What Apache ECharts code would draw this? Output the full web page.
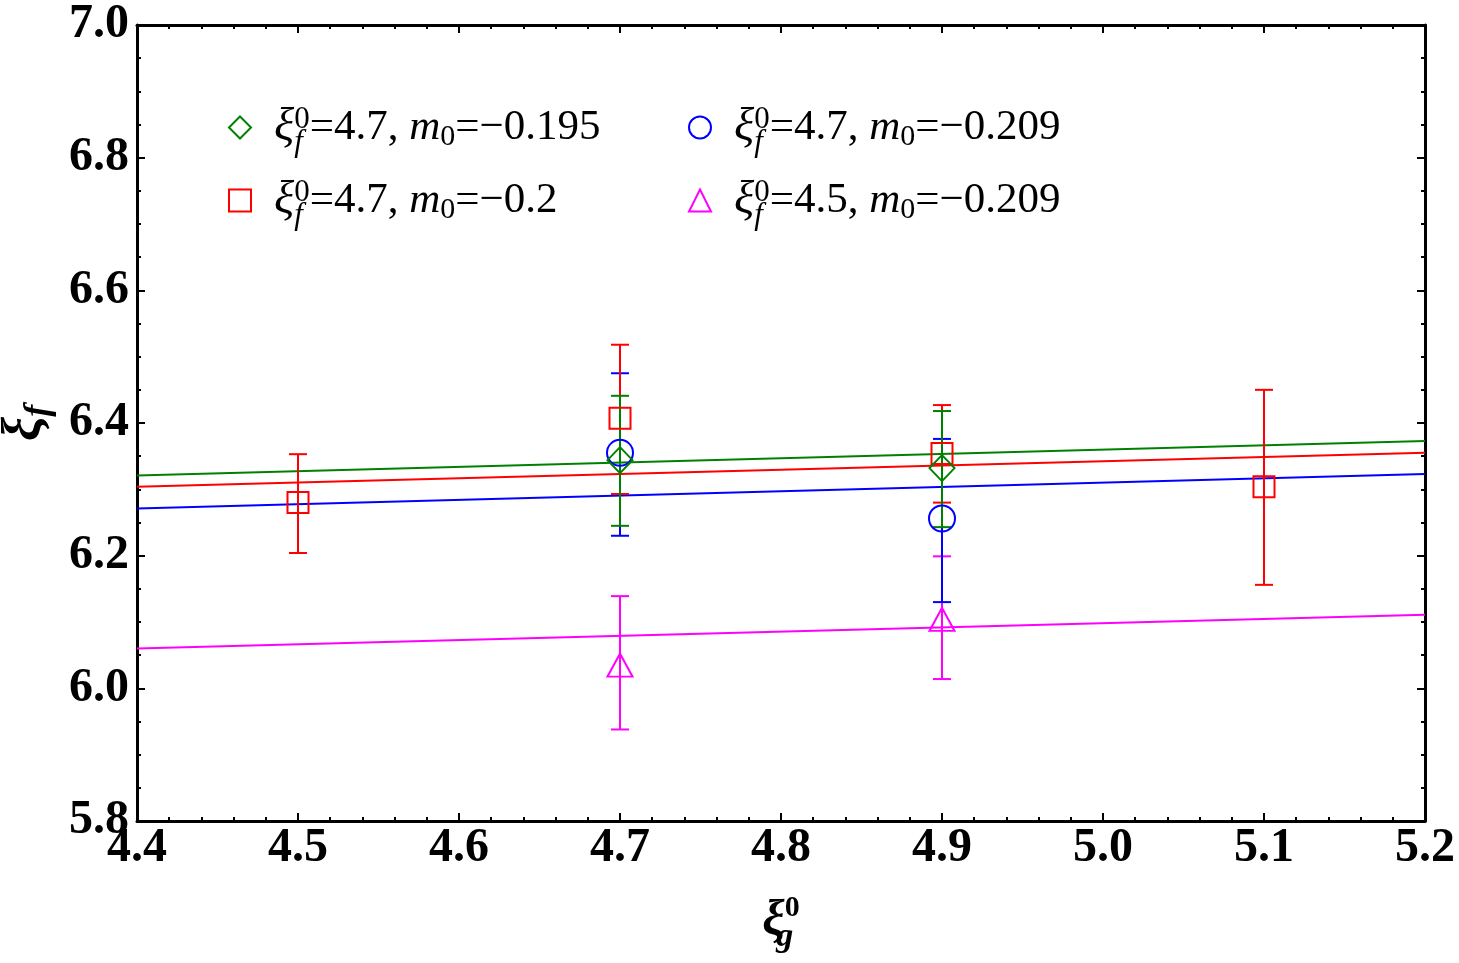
<!DOCTYPE html>
<html lang="en">
  <head>
    <meta charset="UTF-8" />
    <title>xi_f vs xi_g</title>
    <style>
      html, body { margin: 0; padding: 0; background: #fff; }
    </style>
  </head>
  <body>
    <div id="main" style="width: 1459px; height: 963px"></div>

    <script src="https://cdn.jsdelivr.net/npm/echarts@6/dist/echarts.min.js"></script>
    <script>
      var myChart = echarts.init(document.getElementById("main"), null, { renderer: "canvas" });

      // data
      var seriesNames = ["green", "red", "blue", "magenta"];
      var seriesColors = ["#008000", "#ff0000", "#0000ff", "#ff00ff"];
      var seriesSymbols = ["diamond", "rect", "circle", "triangle"];
      var seriesSizes = [[25, 26], 21, 26, [25, 23]];
      var legendXi0 = ["4.7", "4.7", "4.7", "4.5"];
      var legendM0 = ["\u22120.195", "\u22120.2", "\u22120.209", "\u22120.209"];

      var greenX = [4.7, 4.9];
      var greenY = [6.344, 6.332];
      var greenLo = [6.245, 6.243];
      var greenHi = [6.441, 6.418];

      var redX = [4.5, 4.7, 4.9, 5.1];
      var redY = [6.28, 6.407, 6.354, 6.304];
      var redLo = [6.204, 6.293, 6.28, 6.156];
      var redHi = [6.353, 6.518, 6.427, 6.45];

      var blueX = [4.7, 4.9];
      var blueY = [6.355, 6.256];
      var blueLo = [6.23, 6.13];
      var blueHi = [6.475, 6.376];

      var magentaX = [4.7, 4.9];
      var magentaY = [6.035, 6.104];
      var magentaLo = [5.938, 6.014];
      var magentaHi = [6.139, 6.199];

      // fit lines, values at x = 4.4 and x = 5.2
      var fitX = [4.4, 5.2];
      var greenFit = [6.321, 6.373];
      var redFit = [6.304, 6.355];
      var blueFit = [6.271, 6.323];
      var magentaFit = [6.06, 6.111];

      var xTicks = [4.4, 4.5, 4.6, 4.7, 4.8, 4.9, 5.0, 5.1, 5.2];
      var yTicks = [5.8, 6.0, 6.2, 6.4, 6.6, 6.8, 7.0];

      var allX = [greenX, redX, blueX, magentaX];
      var allY = [greenY, redY, blueY, magentaY];
      var allLo = [greenLo, redLo, blueLo, magentaLo];
      var allHi = [greenHi, redHi, blueHi, magentaHi];
      var allFit = [greenFit, redFit, blueFit, magentaFit];

      var serif = "Liberation Serif";

      function errorBarItem(color) {
        return function (params, api) {
          var x = api.value(0);
          var lo = api.coord([x, api.value(1)]);
          var hi = api.coord([x, api.value(2)]);
          var w = 9;
          var st = { stroke: color, lineWidth: 2 };
          return {
            type: "group",
            children: [
              { type: "line", shape: { x1: lo[0], y1: lo[1], x2: hi[0], y2: hi[1] }, style: st },
              { type: "line", shape: { x1: lo[0] - w, y1: lo[1], x2: lo[0] + w, y2: lo[1] }, style: st },
              { type: "line", shape: { x1: hi[0] - w, y1: hi[1], x2: hi[0] + w, y2: hi[1] }, style: st },
            ],
          };
        };
      }

      var series = [];
      // fit lines first (under markers)
      seriesNames.forEach(function (nm, i) {
        series.push({
          name: nm + "-fit",
          type: "line",
          data: fitX.map(function (x, k) { return [x, allFit[i][k]]; }),
          showSymbol: false,
          lineStyle: { color: seriesColors[i], width: 2 },
          silent: true,
          z: 2,
        });
      });
      // error bars and markers, green drawn last so it sits on top
      [3, 2, 1, 0].forEach(function (i) {
        var nm = seriesNames[i];
        series.push({
          name: nm + "-err",
          type: "custom",
          renderItem: errorBarItem(seriesColors[i]),
          encode: { x: 0, y: [1, 2] },
          data: allX[i].map(function (x, k) { return [x, allLo[i][k], allHi[i][k]]; }),
          silent: true,
          z: 3,
        });
        series.push({
          name: nm,
          type: "scatter",
          symbol: seriesSymbols[i],
          symbolSize: seriesSizes[i],
          data: allX[i].map(function (x, k) { return [x, allY[i][k]]; }),
          itemStyle: { color: "rgba(0,0,0,0)", borderColor: seriesColors[i], borderWidth: 2, opacity: 1 },
          silent: true,
          z: 4,
        });
      });

      function legendText(name) {
        var i = seriesNames.indexOf(name);
        return (
          "{xi|\u03be}{sf|f}{s0|0}{t|=" + legendXi0[i] + ", }{m|m}{m0|0}{t|=" + legendM0[i] + "}"
        );
      }

      var legendRich = {
        xi: { fontFamily: serif, fontStyle: "italic", fontSize: 47, lineHeight: 60, verticalAlign: "middle", color: "#000" },
        sf: { fontFamily: serif, fontStyle: "italic", fontSize: 31, width: 0, lineHeight: 60, verticalAlign: "middle", padding: [30, 0, 0, 0], color: "#000" },
        s0: { fontFamily: serif, fontSize: 31, lineHeight: 60, verticalAlign: "middle", padding: [0, 0, 16, 0], color: "#000" },
        t: { fontFamily: serif, fontSize: 43, lineHeight: 60, verticalAlign: "middle", color: "#000" },
        m: { fontFamily: serif, fontStyle: "italic", fontSize: 43, lineHeight: 60, verticalAlign: "middle", color: "#000" },
        m0: { fontFamily: serif, fontSize: 30, lineHeight: 60, verticalAlign: "middle", padding: [20, 0, 0, 0], color: "#000" },
      };

      function makeLegend(names, left) {
        return {
          data: names,
          orient: "vertical",
          left: left,
          top: 92,
          itemWidth: 22,
          itemHeight: 22,
          itemGap: 12,
          selectedMode: false,
          formatter: legendText,
          textStyle: { padding: [0, 0, 0, 18], rich: legendRich },
        };
      }

      var axisLineStyle = { color: "#000", width: 3 };
      var tickStyle = { color: "#000", width: 2 };
      var labelStyle = {
        fontFamily: serif,
        fontWeight: "bold",
        fontSize: 48,
        color: "#000",
      };

      var option = {
        backgroundColor: "#fff",
        animation: false,
        grid: { left: 137, right: 34, top: 25, bottom: 142, containLabel: false, outerBoundsMode: "none" },
        legend: [makeLegend(["green", "red"], 223), makeLegend(["blue", "magenta"], 683)],
        xAxis: [
          {
            type: "value",
            min: xTicks[0],
            max: xTicks[xTicks.length - 1],
            interval: 0.1,
            splitLine: { show: false },
            axisLine: { lineStyle: axisLineStyle },
            axisTick: { inside: true, length: 8, lineStyle: tickStyle },
            minorTick: { show: true, splitNumber: 5, length: 4, lineStyle: tickStyle },
            axisLabel: Object.assign({ margin: 4, hideOverlap: false, formatter: function (v) { return v.toFixed(1); } }, labelStyle),
            name: "{xi|\u03be}{g|g}{s0|0}",
            nameLocation: "middle",
            nameGap: 66,
            nameTextStyle: {
              rich: {
                xi: { fontFamily: serif, fontStyle: "italic", fontWeight: "bold", fontSize: 50, lineHeight: 70, verticalAlign: "middle", color: "#000" },
                g: { fontFamily: serif, fontStyle: "italic", fontWeight: "bold", fontSize: 34, width: 0, lineHeight: 70, verticalAlign: "middle", padding: [30, 0, 0, 0], color: "#000" },
                s0: { fontFamily: serif, fontWeight: "bold", fontSize: 30, lineHeight: 70, verticalAlign: "middle", padding: [0, 0, 28, 0], color: "#000" },
              },
            },
          },
          {
            type: "value",
            position: "top",
            min: xTicks[0],
            max: xTicks[xTicks.length - 1],
            interval: 0.1,
            splitLine: { show: false },
            axisLine: { lineStyle: axisLineStyle },
            axisTick: { inside: true, length: 8, lineStyle: tickStyle },
            minorTick: { show: true, splitNumber: 5, length: 4, lineStyle: tickStyle },
            axisLabel: { show: false },
          },
        ],
        yAxis: [
          {
            type: "value",
            min: yTicks[0],
            max: yTicks[yTicks.length - 1],
            interval: 0.2,
            splitLine: { show: false },
            axisLine: { lineStyle: axisLineStyle },
            axisTick: { inside: true, length: 8, lineStyle: tickStyle },
            minorTick: { show: true, splitNumber: 4, length: 4, lineStyle: tickStyle },
            axisLabel: Object.assign({ margin: 8, hideOverlap: false, formatter: function (v) { return v.toFixed(1); } }, labelStyle),
            name: "{xi|\u03be}{f|f}",
            nameLocation: "middle",
            nameRotate: 90,
            nameGap: 76,
            nameTextStyle: {
              rich: {
                xi: { fontFamily: serif, fontStyle: "italic", fontWeight: "bold", fontSize: 54, lineHeight: 70, verticalAlign: "middle", color: "#000" },
                f: { fontFamily: serif, fontStyle: "italic", fontWeight: "bold", fontSize: 36, lineHeight: 70, verticalAlign: "middle", padding: [26, 0, 0, 0], color: "#000" },
              },
            },
          },
          {
            type: "value",
            position: "right",
            min: yTicks[0],
            max: yTicks[yTicks.length - 1],
            interval: 0.2,
            splitLine: { show: false },
            axisLine: { lineStyle: axisLineStyle },
            axisTick: { inside: true, length: 8, lineStyle: tickStyle },
            minorTick: { show: true, splitNumber: 4, length: 4, lineStyle: tickStyle },
            axisLabel: { show: false },
          },
        ],
        series: series,
      };
      myChart.setOption(option);
    </script>
  </body>
</html>
